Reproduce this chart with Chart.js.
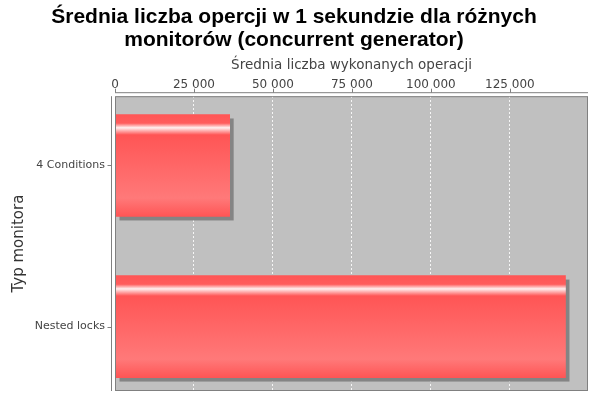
<!DOCTYPE html>
<html>
<head>
<meta charset="utf-8">
<script src="https://cdn.jsdelivr.net/npm/chart.js@4/dist/chart.umd.min.js"></script>
<style>
  html, body { margin: 0; padding: 0; background: #fff; }
  #wrap { width: 600px; height: 400px; }
</style>
</head>
<body>
<div id="wrap"><canvas id="chart"></canvas></div>
<script>
// data
const categories = ['4 Conditions', 'Nested locks'];
const opsPerSecond = [36300, 142600];
const tickValues = [0, 25000, 50000, 75000, 100000, 125000];

const titleLines = ['Średnia liczba opercji w 1 sekundzie dla różnych', 'monitorów (concurrent generator)'];
const xTitle = 'Średnia liczba wykonanych operacji';
const yTitle = 'Typ monitora';

const BAR_H = 102;
const barColor = '#ff5555';
const barLight = '#ff7979';

// polish style thousands: "25 000"
function fmt(v) {
  return String(v).replace(/\B(?=(\d{3})+(?!\d))/g, ' ');
}

// grey plot background, bar shadows + gradient, plot frame and offset axis lines
const plotDeco = {
  id: 'plotDeco',
  beforeDraw(chart) {
    const a = chart.chartArea, c = chart.ctx;
    c.save();
    c.fillStyle = '#c0c0c0';
    c.fillRect(a.left, a.top, a.right - a.left, a.bottom - a.top);
    c.restore();
  },
  beforeDatasetsDraw(chart) {
    const c = chart.ctx;
    const meta = chart.getDatasetMeta(0);
    c.save();
    c.fillStyle = '#848484';
    meta.data.forEach(el => {
      const top = el.y - el.height / 2;
      if (!isFinite(top) || !isFinite(el.height)) return;
      const x0 = Math.min(el.base, el.x);
      const w = Math.abs(el.x - el.base);
      c.fillRect(x0 + 4, top + 4, w, el.height);
      // vertical gradient like the original bar painter
      const g = c.createLinearGradient(0, top, 0, top + el.height);
      g.addColorStop(0, barColor);
      g.addColorStop(0.085, '#ff5c5c');
      g.addColorStop(0.13, '#fff0f0');
      g.addColorStop(0.2, barColor);
      g.addColorStop(0.82, barLight);
      g.addColorStop(1, barColor);
      el.options.backgroundColor = g;
    });
    c.restore();
  },
  afterDraw(chart) {
    const a = chart.chartArea, c = chart.ctx;
    const xs = chart.scales.x, ys = chart.scales.y;
    c.save();
    c.strokeStyle = '#808080';
    c.lineWidth = 1;
    c.strokeRect(a.left + 0.5, a.top + 0.5, a.right - a.left - 1, a.bottom - a.top - 1);
    c.beginPath();
    // top value axis, 4px above the plot
    const ay = a.top - 3.5;
    c.moveTo(a.left, ay); c.lineTo(a.right, ay);
    tickValues.forEach(v => {
      const px = Math.round(xs.getPixelForValue(v)) + 0.5;
      c.moveTo(px, ay); c.lineTo(px, ay - 4);
    });
    // left category axis
    const ax = a.left - 3.5;
    c.moveTo(ax, a.top); c.lineTo(ax, a.bottom);
    categories.forEach((_, i) => {
      const py = Math.round(ys.getPixelForValue(i)) + 0.5;
      c.moveTo(ax, py); c.lineTo(ax - 4, py);
    });
    c.stroke();
    c.restore();
  }
};

new Chart(document.getElementById('chart'), {
  type: 'bar',
  data: {
    labels: categories,
    datasets: [{
      data: opsPerSecond,
      backgroundColor: () => barColor,
      borderWidth: 0,
      barThickness: BAR_H
    }]
  },
  options: {
    indexAxis: 'y',
    responsive: true,
    maintainAspectRatio: false,
    animation: false,
    layout: { padding: { left: 0, right: 12, top: 0, bottom: 9 } },
    plugins: {
      legend: { display: false },
      tooltip: { enabled: false },
      title: {
        display: true,
        text: titleLines,
        color: '#000',
        font: { family: 'Liberation Sans', size: 21, weight: 'bold', lineHeight: 1.1 },
        padding: { top: 6, bottom: 0 }
      }
    },
    scales: {
      x: {
        position: 'top',
        min: 0,
        max: Math.max(...opsPerSecond) * 1.05,
        afterBuildTicks: s => { s.ticks = tickValues.map(v => ({ value: v })); },
        afterFit: s => {
          s.height = 44;
          s.paddingLeft = 0; s.paddingRight = 0;
        },
        ticks: {
          color: '#444',
          font: { family: 'DejaVu Sans', size: 12 },
          padding: 4,
          maxRotation: 0,
          autoSkip: false,
          callback: v => fmt(v)
        },
        grid: {
          color: 'rgba(255,255,255,0.85)',
          lineWidth: 1,
          drawTicks: false
        },
        border: { display: false, dash: [2, 2] },
        title: {
          display: true,
          text: xTitle,
          color: '#444',
          font: { family: 'DejaVu Sans', size: 13.5 },
          padding: { top: 5, bottom: 0 }
        }
      },
      y: {
        // category spacing closer to the original: outer margins smaller than the gap
        afterBuildTicks: s => { s._startValue = -0.43; s._valueRange = 1.83; },
        afterFit: s => {
          s.width = 115;
          s.paddingTop = 0; s.paddingBottom = 0;
        },
        ticks: {
          color: '#444',
          font: { family: 'DejaVu Sans', size: 11 },
          padding: 10
        },
        grid: { display: false, drawTicks: false },
        border: { display: false },
        title: {
          display: true,
          text: yTitle,
          color: '#333',
          font: { family: 'DejaVu Sans', size: 15 },
          padding: { top: 10, bottom: 0 }
        }
      }
    }
  },
  plugins: [plotDeco]
});
</script>
</body>
</html>
